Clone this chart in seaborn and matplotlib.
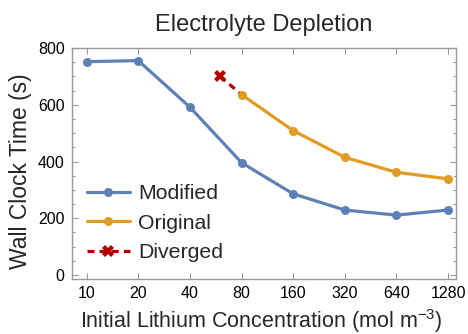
import numpy as np
import pandas as pd
import matplotlib
matplotlib.use("Agg")
import matplotlib.pyplot as plt
import seaborn as sns
from matplotlib.ticker import FixedLocator, NullLocator, MultipleLocator

# datos
conc_mod = [10, 20, 40, 80, 160, 320, 640, 1280]
time_mod = [752, 756, 592, 396, 286, 229, 211, 229]
conc_orig = [80, 160, 320, 640, 1280]
time_orig = [636, 509, 415, 362, 339]
conc_div = [60, 80]
time_div = [700, 636]
xticks = [10, 20, 40, 80, 160, 320, 640, 1280]

sns.set_style("ticks")
plt.rcParams["font.family"] = ["Liberation Sans", "DejaVu Sans"]
plt.rcParams["mathtext.fontset"] = "custom"
plt.rcParams["mathtext.rm"] = "Liberation Sans"

azul = "#5E81B5"
naranja = "#E19C24"
rojo = "#B00000"
gris = "#999999"

fig = plt.figure(figsize=(4.68, 3.34), dpi=100)
ax = fig.add_axes([0.153, 0.164, 0.821, 0.692])

sns.lineplot(x=conc_div, y=time_div, ax=ax, color=rojo, lw=2.3, ls=(0, (2.2, 1.6)),
             marker="X", markersize=8.5, markevery=[0], markeredgewidth=0,
             label="Diverged", zorder=2)
sns.lineplot(x=conc_mod, y=time_mod, ax=ax, color=azul, lw=2.3, marker="o",
             markersize=6.5, markeredgewidth=0, label="Modified", zorder=3)
sns.lineplot(x=conc_orig, y=time_orig, ax=ax, color=naranja, lw=2.3, marker="o",
             markersize=6.5, markeredgewidth=0, label="Original", zorder=3)

ax.set_xscale("log", base=2)
ax.set_xlim(10 * 2 ** -0.29, 1280 * 2 ** 0.15)
ax.set_ylim(-15, 800)
ax.xaxis.set_major_locator(FixedLocator(xticks))
ax.xaxis.set_minor_locator(NullLocator())
ax.set_xticklabels([str(t) for t in xticks])
ax.yaxis.set_major_locator(MultipleLocator(200))
ax.yaxis.set_minor_locator(MultipleLocator(50))

for s in ax.spines.values():
    s.set_color(gris)
    s.set_linewidth(1.0)
ax.tick_params(which="both", direction="in", top=True, right=True, color=gris,
               labelsize=11.5, labelcolor="black", width=0.8)
ax.tick_params(which="major", length=4, pad=5)
ax.tick_params(which="minor", length=2.5)

ax.set_title("Electrolyte Depletion", fontsize=17, pad=12)
ax.set_xlabel("Initial Lithium Concentration (mol m$^{-3}$)", fontsize=15.5)
ax.set_ylabel("Wall Clock Time (s)", fontsize=16.5)
ax.xaxis.set_label_coords(0.4926, -0.12)
ax.yaxis.set_label_coords(-0.104, 0.466)

h, l = ax.get_legend_handles_labels()
orden = [l.index("Modified"), l.index("Original"), l.index("Diverged")]
ax.legend([h[i] for i in orden], [l[i] for i in orden], loc="lower left",
          bbox_to_anchor=(-0.004, 0.0), frameon=False, fontsize=15.3,
          handlelength=2.0, handletextpad=0.4, labelspacing=0.5, borderpad=0.3)

plt.savefig("out.png", dpi=100)
